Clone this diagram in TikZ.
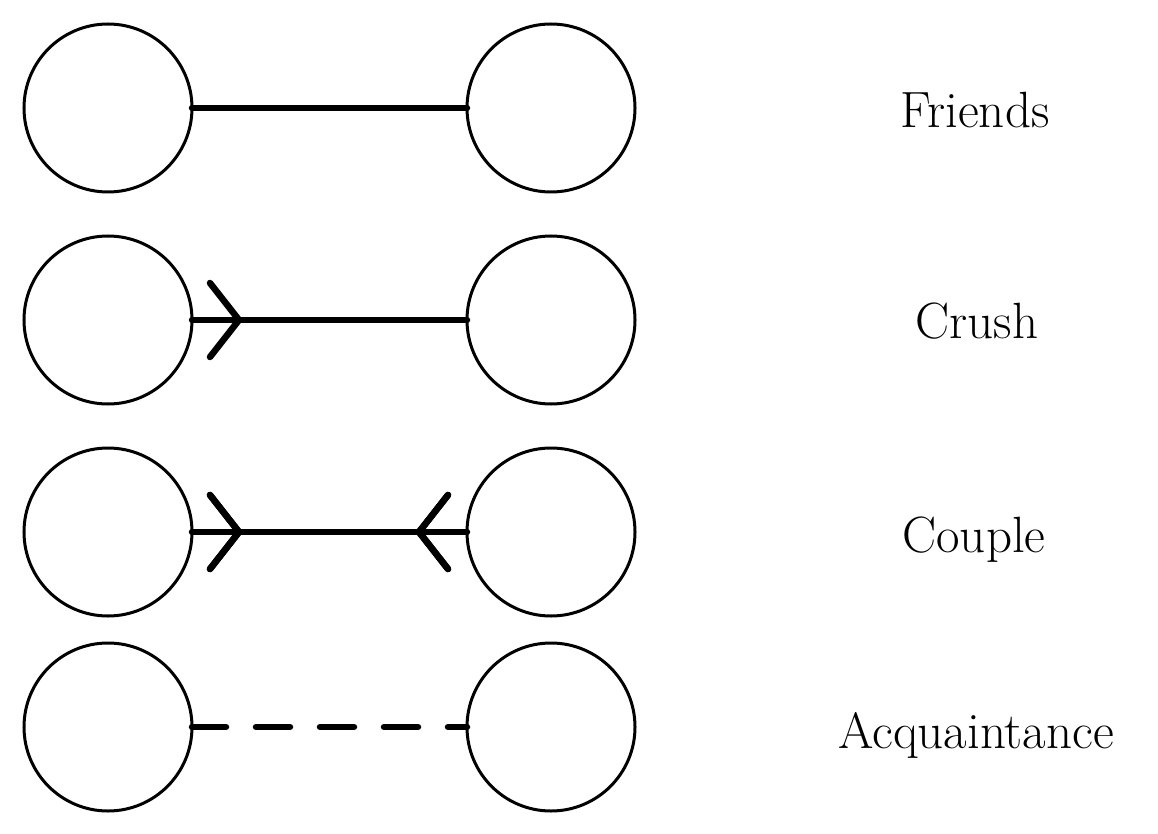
\documentclass[tikz,border=0pt]{standalone}
\usetikzlibrary{decorations.markings}
\begin{document}
\begin{tikzpicture}[x=1pt,y=-1pt,
  person/.style={circle,draw=black,line width=3pt,minimum size=168pt,inner sep=0pt,outer sep=0pt},
  tie/.style={line width=6.5pt,line cap=round},
  label/.style={font=\fontsize{51}{60}\selectfont,anchor=base},
  fwdhead/.style={postaction={decorate},decoration={markings,
      mark=at position #1 with {\draw[line width=6.5pt,line cap=round,line join=miter] (-29pt,-37pt) -- (0pt,0pt) -- (-29pt,37pt);}}},
  backhead/.style={postaction={decorate},decoration={markings,
      mark=at position #1 with {\draw[line width=6.5pt,line cap=round,line join=miter] (29pt,-37pt) -- (0pt,0pt) -- (29pt,37pt);}}}
]
\useasboundingbox (0,0) rectangle (1158,834);
% row 1
\node[person] (a1) at (108,108) {};
\node[person] (b1) at (551,108) {};
\node[label] (t1) at (975,128) {Friends};
\draw[tie] (a1.east) -- (b1.west);
% row 2
\node[person] (a2) at (108,320) {};
\node[person] (b2) at (551,320) {};
\node[label] (t2) at (977,338) {Crush};
\draw[tie,fwdhead=47pt] (a2.east) -- (b2.west);
% row 3
\node[person] (a3) at (108,532) {};
\node[person] (b3) at (551,532) {};
\node[label] (t3) at (974,552) {Couple};
\draw[tie,fwdhead=47pt,backhead=227pt] (a3.east) -- (b3.west);
% row 4
\node[person] (a4) at (108,727) {};
\node[person] (b4) at (551,727) {};
\node[label] (t4) at (976,748) {Acquaintance};
\draw[tie,dash pattern=on 34pt off 30pt] (a4.east) -- (b4.west);
\end{tikzpicture}
\end{document}
